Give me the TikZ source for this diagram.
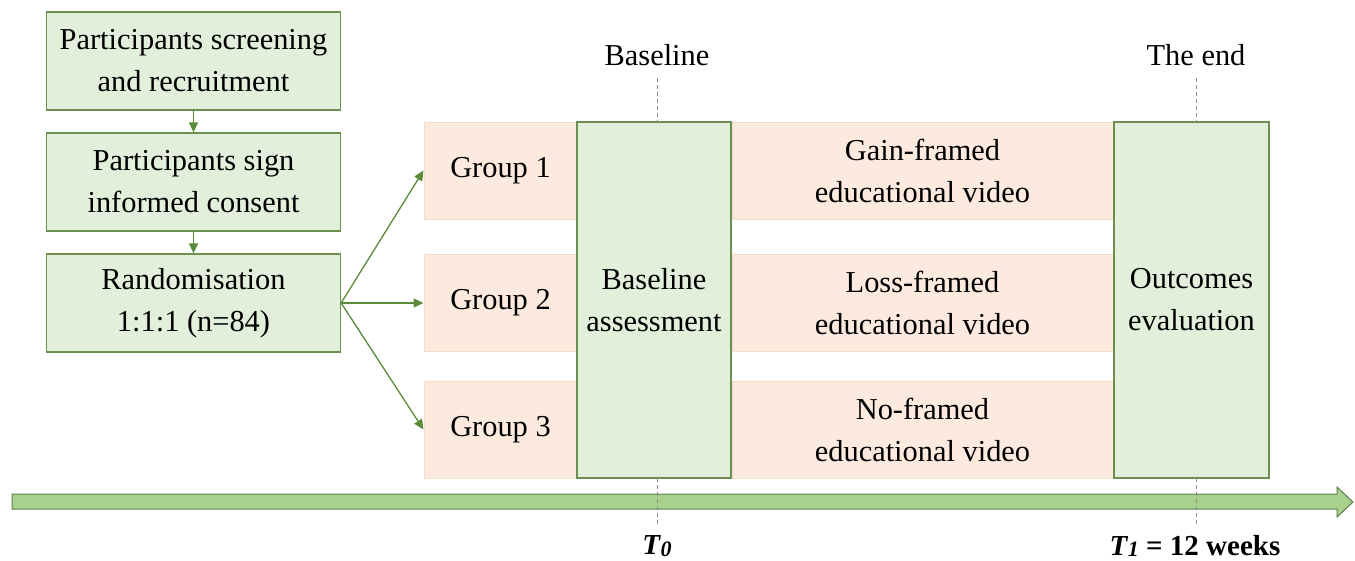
\documentclass[tikz,border=0pt]{standalone}
\usepackage{fontspec}
\setmainfont{Liberation Serif}
\usetikzlibrary{arrows.meta}
\definecolor{gfill}{HTML}{E2EFDA}
\definecolor{gdraw}{HTML}{6A8F4E}
\definecolor{pfill}{HTML}{FCEADF}
\definecolor{pdraw}{HTML}{F2DEC8}
\definecolor{afill}{HTML}{A9D18E}
\definecolor{adraw}{HTML}{5E7F48}
\definecolor{arr}{HTML}{5B8A3A}
\tikzset{
  txt/.style={font=\fontsize{30.4}{42}\selectfont, align=center, text=black},
  gbox/.style={txt, draw=gdraw, fill=gfill, line width=1.3pt, inner sep=0pt},
  pbox/.style={txt, draw=pdraw, fill=pfill, line width=1pt, inner sep=0pt},
  conn/.style={draw=arr, line width=1.3pt, -{Triangle[length=10pt,width=9pt]}},
  guide/.style={draw=gray!90, line width=1pt, dash pattern=on 4pt off 3pt},
}
\begin{document}
\begin{tikzpicture}[x=1pt,y=-1pt]
\useasboundingbox (0,0) rectangle (1355,560);
% left column
\node[gbox, minimum width=294pt, minimum height=98pt] (s1) at (193.5,61) {Participants screening\\and recruitment};
\node[gbox, minimum width=294pt, minimum height=98pt] (s2) at (193.5,182) {Participants sign\\informed consent};
\node[gbox, minimum width=294pt, minimum height=98pt] (s3) at (193.5,303) {Randomisation\\1:1:1 (n=84)};
\draw[conn] (s1.south) -- (s2.north);
\draw[conn] (s2.south) -- (s3.north);
% groups
\node[pbox, minimum width=153pt, minimum height=97pt] (g1) at (500.5,170.5) {Group 1};
\node[pbox, minimum width=153pt, minimum height=97pt] (g2) at (500.5,303) {Group 2};
\node[pbox, minimum width=153pt, minimum height=97pt] (g3) at (500.5,429.5) {Group 3};
% videos
\node[pbox, minimum width=381pt, minimum height=97pt] (v1) at (922.5,170.5) {Gain-framed\\educational video};
\node[pbox, minimum width=381pt, minimum height=97pt] (v2) at (922.5,303) {Loss-framed\\educational video};
\node[pbox, minimum width=381pt, minimum height=97pt] (v3) at (922.5,429.5) {No-framed\\educational video};
% big green boxes
\node[gbox, minimum width=154pt, minimum height=356pt] (base) at (654,300) {Baseline\\assessment};
\node[gbox, minimum width=155pt, minimum height=356pt] (out) at (1191.5,300) {Outcomes\\evaluation};
% fan arrows
\draw[conn] (s3.east) -- (g1.west);
\draw[conn] (s3.east) -- (g2.west);
\draw[conn] (s3.east) -- (g3.west);
% timeline
\fill[afill, draw=adraw, line width=1pt]
  (12,494) -- (1337,494) -- (1337,487) -- (1353,502) -- (1337,517) -- (1337,509) -- (12,509) -- cycle;
% time labels
\node[txt] (blab) at (657,55) {Baseline};
\node[txt] (elab) at (1196,55) {The end};
\coordinate (b0) at (657,78);
\coordinate (b1) at (657,122);
\coordinate (b2) at (657,478);
\coordinate (b3) at (657,524);
\coordinate (e0) at (1196,78);
\coordinate (e1) at (1196,122);
\coordinate (e2) at (1196,478);
\coordinate (e3) at (1196,524);
\draw[guide] (b0) -- (b1);
\draw[guide] (b2) -- (b3);
\draw[guide] (e0) -- (e1);
\draw[guide] (e2) -- (e3);
\node[txt, font=\fontsize{29}{34}\selectfont\bfseries] (t0) at (657,546) {\textit{T\kern0.5pt\raisebox{-0.12ex}{\fontsize{22}{24}\selectfont 0}}};
\node[txt, font=\fontsize{29}{34}\selectfont\bfseries] (t1) at (1195,546) {\textit{T\kern0.5pt\raisebox{-0.12ex}{\fontsize{22}{24}\selectfont 1}} = 12 weeks};
\end{tikzpicture}
\end{document}
